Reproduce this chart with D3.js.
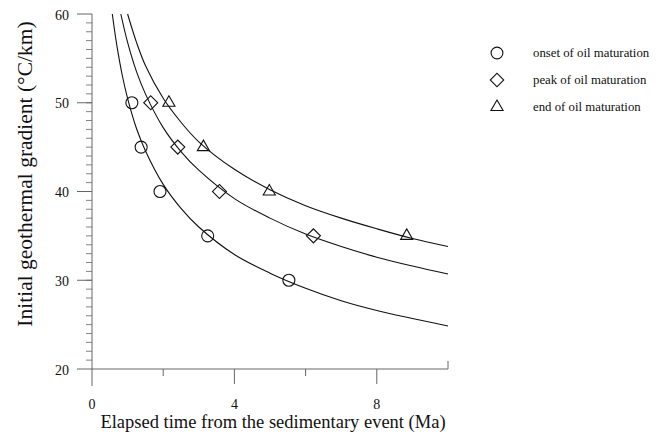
<!DOCTYPE html>
<html>
<head>
<meta charset="utf-8">
<script src="https://cdn.jsdelivr.net/npm/d3@7"></script>
<style>
  body { margin: 0; background: #fff; }
  text { font-family: "Liberation Serif", "DejaVu Serif", serif; fill: #111; }
</style>
</head>
<body>
<div id="chart"></div>
<script>
// chart size
var chart_width  = 663;
var chart_height = 439;

// observed points (time Ma, gradient C/km)
var onset_pts = [[1.12, 50], [1.38, 45], [1.91, 40], [3.25, 35], [5.53, 30]];
var peak_pts  = [[1.65, 50], [2.41, 45], [3.58, 40], [6.22, 35]];
var end_pts   = [[2.16, 50], [3.13, 45], [4.98, 40], [8.84, 35]];

// fitted curves
var onset_curve = [[0.57, 60], [0.7, 56.4], [0.85, 53.1], [1.0, 50.5], [1.25, 47.1], [1.5, 44.6],
                   [2, 40.8], [2.5, 38.1], [3, 36.0], [4, 32.9], [5, 30.8], [6, 29.1],
                   [7, 27.7], [8, 26.6], [9, 25.7], [10, 24.85]];
var peak_curve  = [[0.81, 60], [1.0, 56.8], [1.25, 53.5], [1.5, 51.0], [2, 47.2], [2.5, 44.5],
                   [3, 42.4], [4, 39.2], [5, 37.0], [6, 35.2], [7, 33.8], [8, 32.6],
                   [9, 31.6], [10, 30.7]];
var end_curve   = [[1.0, 60], [1.25, 56.8], [1.5, 54.2], [2, 50.5], [2.5, 47.8], [3, 45.6],
                   [4, 42.5], [5, 40.2], [6, 38.4], [7, 37.0], [8, 35.8], [9, 34.7], [10, 33.8]];

var legend_labels = ["onset of oil maturation", "peak of oil maturation", "end of oil maturation"];
var x_tick_labels = [0, 4, 8];
var y_tick_labels = [20, 30, 40, 50, 60];

var svg = d3.select("#chart")
    .append("svg")
    .attr("width", chart_width)
    .attr("height", chart_height);

var x = d3.scaleLinear().domain([0, 10]).range([92, 448]);
var y = d3.scaleLinear().domain([20, 60]).range([369, 14]);

var axisColor = "#666";

// y axis line (runs a bit below the x axis)
svg.append("line")
    .attr("x1", x(0)).attr("x2", x(0))
    .attr("y1", y(60)).attr("y2", 386)
    .attr("stroke", axisColor).attr("stroke-width", 1);

// minor y ticks every 1 unit
svg.selectAll(".yminor")
    .data(d3.range(21, 60))
    .enter().append("line")
    .attr("x1", x(0) - 6).attr("x2", x(0))
    .attr("y1", function(d){ return y(d); })
    .attr("y2", function(d){ return y(d); })
    .attr("stroke", axisColor).attr("stroke-width", 0.8);

// major y ticks + labels
svg.selectAll(".ymajor")
    .data(y_tick_labels)
    .enter().append("line")
    .attr("x1", x(0) - 15).attr("x2", x(0))
    .attr("y1", function(d){ return y(d); })
    .attr("y2", function(d){ return y(d); })
    .attr("stroke", axisColor).attr("stroke-width", 1);

svg.selectAll(".ylab")
    .data(y_tick_labels)
    .enter().append("text")
    .attr("x", 69)
    .attr("y", function(d){ return y(d); })
    .attr("dy", "0.4em")
    .attr("text-anchor", "end")
    .style("font-size", "14px")
    .text(function(d){ return d; });

// x axis line
svg.append("line")
    .attr("x1", x(0)).attr("x2", x(10))
    .attr("y1", y(20)).attr("y2", y(20))
    .attr("stroke", axisColor).attr("stroke-width", 1);

// x ticks: 2 and 6 short, 4 and 8 long, 10 goes up
svg.selectAll(".xtick")
    .data([2, 4, 6, 8])
    .enter().append("line")
    .attr("x1", function(d){ return x(d); })
    .attr("x2", function(d){ return x(d); })
    .attr("y1", y(20))
    .attr("y2", function(d){ return d % 4 === 0 ? y(20) + 15 : y(20) + 7; })
    .attr("stroke", axisColor).attr("stroke-width", 1);

svg.append("line")
    .attr("x1", x(10)).attr("x2", x(10))
    .attr("y1", y(20)).attr("y2", y(20) - 8)
    .attr("stroke", axisColor).attr("stroke-width", 1);

svg.selectAll(".xlab")
    .data(x_tick_labels)
    .enter().append("text")
    .attr("x", function(d){ return x(d); })
    .attr("y", 409)
    .attr("text-anchor", "middle")
    .style("font-size", "14px")
    .text(function(d){ return d; });

// axis titles
svg.append("text")
    .attr("x", 273)
    .attr("y", 428)
    .attr("text-anchor", "middle")
    .style("font-size", "18.5px")
    .text("Elapsed time from the sedimentary event (Ma)");

svg.append("text")
    .attr("transform", "translate(32,174) rotate(-90)")
    .attr("text-anchor", "middle")
    .style("font-size", "21.5px")
    .text("Initial geothermal gradient (\u00B0C/km)");

// curves
var line = d3.line()
    .x(function(d){ return x(d[0]); })
    .y(function(d){ return y(d[1]); })
    .curve(d3.curveCatmullRom);

[onset_curve, peak_curve, end_curve].forEach(function(c){
    svg.append("path")
        .attr("d", line(c))
        .attr("fill", "none")
        .attr("stroke", "#111")
        .attr("stroke-width", 1.1);
});

// markers
var circleSym   = d3.symbol().type(d3.symbolCircle).size(113);
var diamondSym  = d3.symbol().type(d3.symbolSquare).size(98);
var triangleSym = d3.symbol().type(d3.symbolTriangle).size(64);

function drawPoints(pts, sym, rot) {
    svg.selectAll(null)
        .data(pts)
        .enter().append("path")
        .attr("d", sym)
        .attr("transform", function(d){
            return "translate(" + x(d[0]) + "," + y(d[1]) + ") rotate(" + rot + ")";
        })
        .attr("fill", "none")
        .attr("stroke", "#111")
        .attr("stroke-width", 1.1);
}
drawPoints(onset_pts, circleSym, 0);
drawPoints(peak_pts, diamondSym, 45);
drawPoints(end_pts, triangleSym, 0);

// legend
var legendSyms = [
    d3.symbol().type(d3.symbolCircle).size(110),
    d3.symbol().type(d3.symbolSquare).size(90),
    d3.symbol().type(d3.symbolTriangle).size(64)
];
var legendRot = [0, 45, 0];
var legendY = [53, 80, 107];

legend_labels.forEach(function(lbl, i){
    svg.append("path")
        .attr("d", legendSyms[i])
        .attr("transform", "translate(497," + legendY[i] + ") rotate(" + legendRot[i] + ")")
        .attr("fill", "none")
        .attr("stroke", "#111")
        .attr("stroke-width", 1.1);
    svg.append("text")
        .attr("x", 533)
        .attr("y", legendY[i])
        .attr("dy", "0.35em")
        .style("font-size", "12.8px")
        .text(lbl);
});
</script>
</body>
</html>
